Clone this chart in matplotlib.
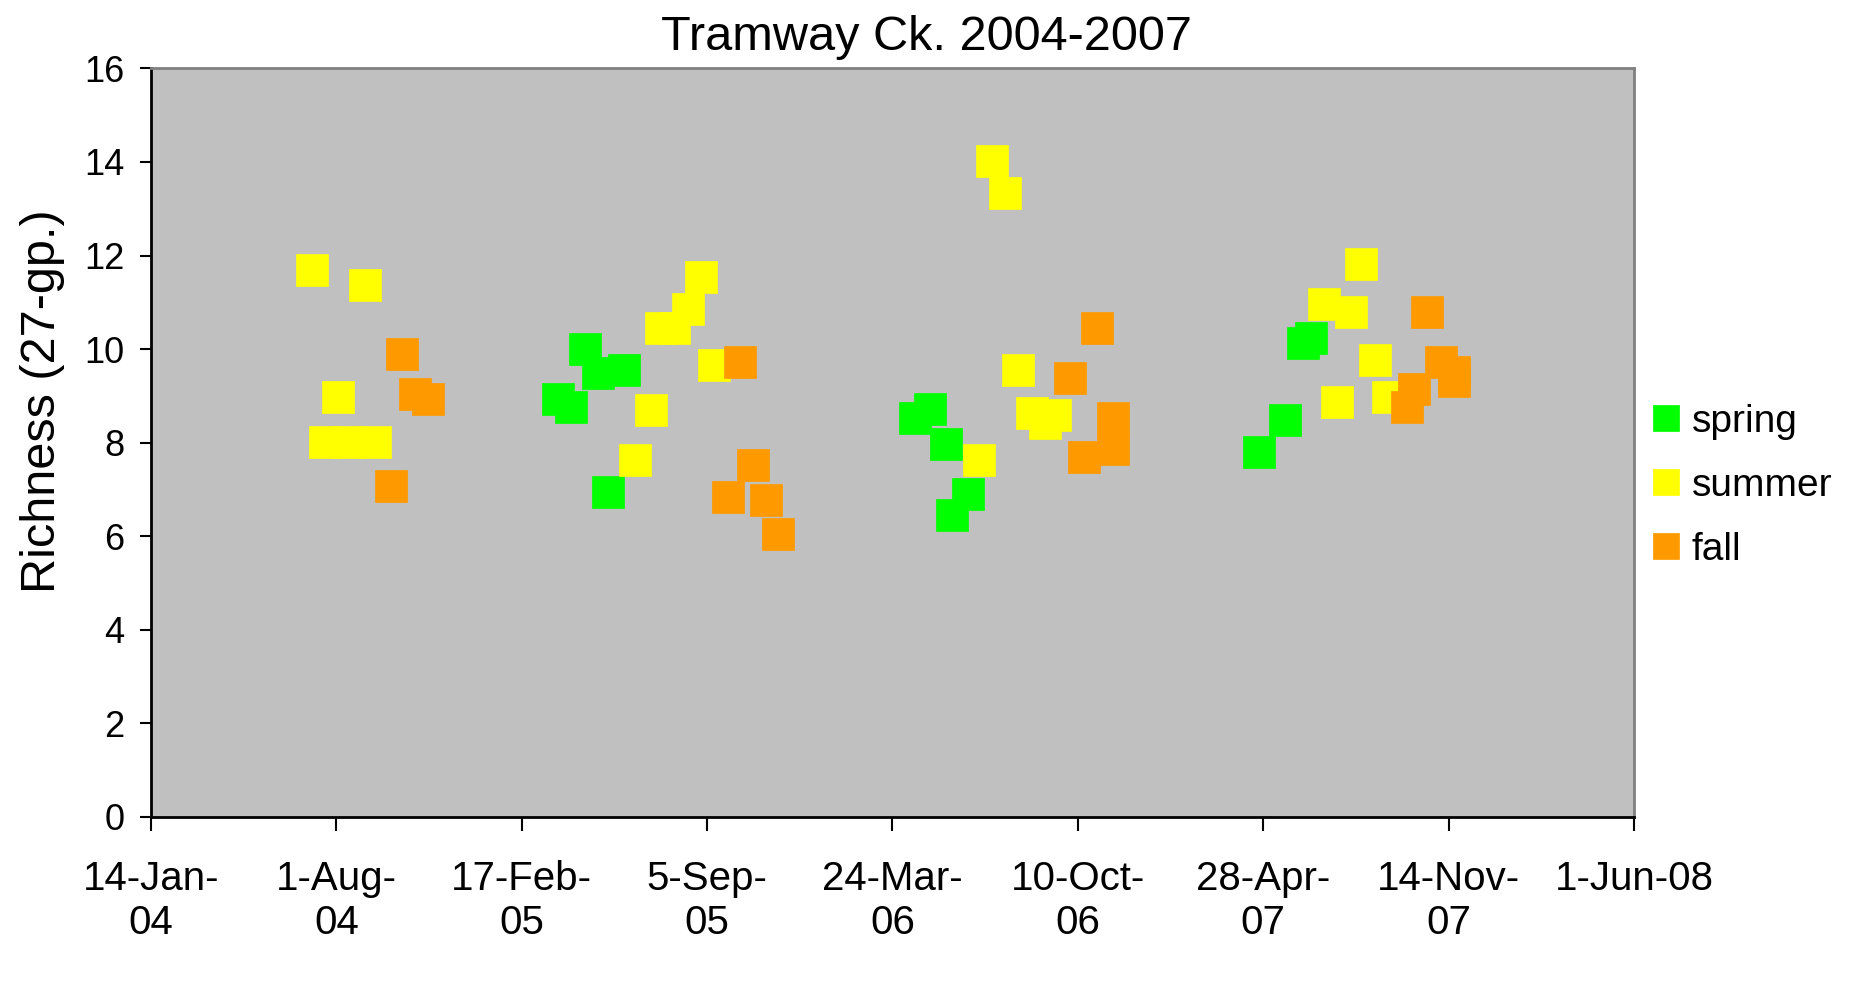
#!/usr/bin/env python
"""
Tramway Ck. richness by season, 2004-2007
"""

import numpy as np
import matplotlib.pyplot as plt

plt.rcParams['font.family'] = ['Liberation Sans', 'DejaVu Sans']

# Sampling dates and richness values per season
spring_dates = ['2005-03-28', '2005-04-11', '2005-04-26', '2005-05-10', '2005-05-21', '2005-06-07',
                '2006-04-17', '2006-05-04', '2006-05-21', '2006-05-27', '2006-06-13',
                '2007-04-23', '2007-05-21', '2007-06-10', '2007-06-19']
spring_vals = [8.93, 8.76, 10.00, 9.49, 6.94, 9.55,
               8.53, 8.71, 7.96, 6.44, 6.89,
               7.80, 8.48, 10.12, 10.23]

summer_dates = ['2004-07-06', '2004-07-20', '2004-08-03', '2004-08-15', '2004-09-01', '2004-09-12',
                '2005-06-19', '2005-07-06', '2005-07-17', '2005-07-31', '2005-08-15', '2005-08-29', '2005-09-12',
                '2006-06-25', '2006-07-09', '2006-07-23', '2006-08-06', '2006-08-21', '2006-09-04', '2006-09-15',
                '2007-07-03', '2007-07-17', '2007-08-01', '2007-08-12', '2007-08-27', '2007-09-10']
summer_vals = [11.70, 8.02, 8.98, 8.02, 11.36, 8.02,
               7.63, 8.70, 10.46, 10.46, 10.85, 11.53, 9.66,
               7.63, 14.02, 13.33, 9.55, 8.64, 8.42, 8.59,
               10.96, 8.87, 10.80, 11.81, 9.77, 8.98]

fall_dates = ['2004-09-29', '2004-10-11', '2004-10-25', '2004-11-08',
              '2005-09-27', '2005-10-11', '2005-10-25', '2005-11-08', '2005-11-20',
              '2006-10-02', '2006-10-17', '2006-10-31', '2006-11-17', '2006-11-17',
              '2007-09-30', '2007-10-08', '2007-10-22', '2007-11-06', '2007-11-20', '2007-11-20']
fall_vals = [7.06, 9.89, 9.04, 8.93,
             6.84, 9.72, 7.52, 6.78, 6.05,
             9.38, 7.68, 10.45, 8.53, 7.86,
             8.76, 9.15, 10.80, 9.72, 9.50, 9.32]

# x-axis ticks (every 200 days) and labels
tick_dates = ['2004-01-14', '2004-08-01', '2005-02-17', '2005-09-05', '2006-03-24',
              '2006-10-10', '2007-04-28', '2007-11-14', '2008-06-01']
tick_labels = ['14-Jan-\n04', '1-Aug-\n04', '17-Feb-\n05', '5-Sep-\n05', '24-Mar-\n06',
               '10-Oct-\n06', '28-Apr-\n07', '14-Nov-\n07', '1-Jun-08']

series = [('spring', spring_dates, spring_vals, '#00FF00'),
          ('summer', summer_dates, summer_vals, '#FFFF00'),
          ('fall', fall_dates, fall_vals, '#FF9900')]

fig = plt.figure(figsize=(18.53, 9.91), dpi=100)
ax = fig.add_axes([0.0815, 0.176, 0.8003, 0.7549])
ax.set_facecolor('#C0C0C0')

for name, dates, vals, col in series:
    ax.plot(np.array(dates, dtype='datetime64[D]'), vals, linestyle='none',
            marker='s', markersize=22.5, markerfacecolor=col,
            markeredgecolor=col, markeredgewidth=0.5, label=name)

ticks = np.array(tick_dates, dtype='datetime64[D]')
ax.set_xlim(ticks[0], ticks[-1])
ax.set_xticks(ticks)
ax.set_xticklabels(tick_labels, fontsize=29, linespacing=1.2)
ax.set_ylim(0, 16)
ax.set_yticks(range(0, 17, 2))
ax.tick_params(axis='y', labelsize=26, length=8, width=1.5, pad=11, direction='out')
ax.tick_params(axis='x', length=10, width=1.5, pad=21, direction='out')

for side in ['top', 'right']:
    ax.spines[side].set_color('#808080')
    ax.spines[side].set_linewidth(2)
for side in ['left', 'bottom']:
    ax.spines[side].set_color('black')
    ax.spines[side].set_linewidth(2)

ax.set_ylabel('Richness (27-gp.)', fontsize=35, labelpad=14, y=0.555)

fig.text(0.5, 1 - 50 / 991, 'Tramway Ck. 2004-2007', fontsize=35,
         ha='center', va='baseline')

ax.legend(loc='center left', bbox_to_anchor=(0.890, 0.510),
          bbox_transform=fig.transFigure, frameon=False, fontsize=28,
          markerscale=0.83, handlelength=0.85, handletextpad=0.25,
          labelspacing=0.72, borderpad=0, borderaxespad=0)

fig.savefig('out.png', dpi=100)
